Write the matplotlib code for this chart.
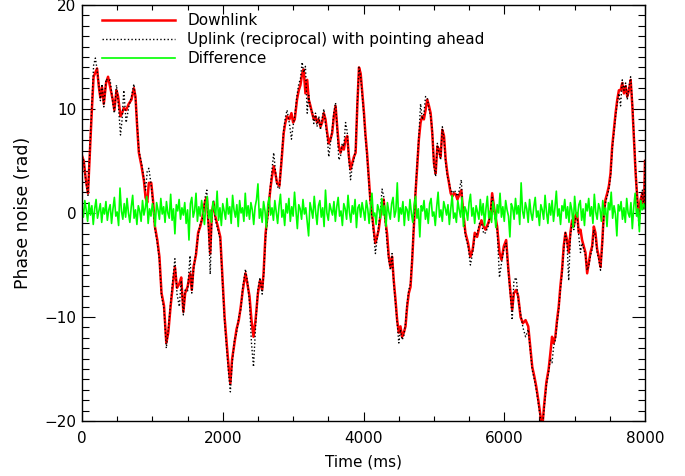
#!/usr/bin/env python3

import numpy as np
import matplotlib
matplotlib.use("Agg")
import matplotlib.pyplot as plt
from matplotlib.ticker import MultipleLocator

# time samples (ms) of the downlink / uplink traces
down_t = [
    0, 25, 55, 85, 100, 120, 140, 165, 190, 214,
    240, 261, 285, 310, 342, 370, 400, 437, 460, 490,
    513, 547, 570, 594, 627, 665, 703, 737, 760, 784,
    808, 846, 880, 903, 927, 950, 984, 1008, 1036, 1070,
    1100, 1130, 1165, 1198, 1226, 1260, 1293, 1320, 1350, 1383,
    1410, 1440, 1466, 1500, 1535, 1560, 1585, 1620, 1650, 1680,
    1712, 1750, 1774, 1800, 1822, 1845, 1870, 1893, 1930, 1965,
    1988, 2026, 2060, 2084, 2108, 2132, 2166, 2195, 2228, 2256,
    2285, 2323, 2350, 2380, 2408, 2437, 2466, 2500, 2530, 2560,
    2580, 2608, 2645, 2680, 2700, 2724, 2748, 2771, 2805, 2833,
    2866, 2890, 2914, 2947, 2976, 3000, 3023, 3055, 3080, 3104,
    3128, 3150, 3175, 3200, 3222, 3246, 3270, 3294, 3318, 3340,
    3365, 3389, 3413, 3436, 3460, 3484, 3507, 3531, 3555, 3579,
    3603, 3626, 3650, 3674, 3698, 3721, 3745, 3769, 3793, 3816,
    3840, 3864, 3888, 3912, 3936, 3960, 3983, 4007, 4026, 4050,
    4074, 4097, 4121, 4145, 4169, 4192, 4216, 4240, 4264, 4287,
    4311, 4335, 4359, 4383, 4406, 4430, 4454, 4478, 4502, 4525,
    4549, 4573, 4597, 4620, 4644, 4668, 4692, 4716, 4739, 4763,
    4787, 4811, 4835, 4858, 4882, 4906, 4930, 4954, 4977, 5001,
    5025, 5049, 5073, 5096, 5120, 5144, 5168, 5192, 5215, 5239,
    5263, 5287, 5310, 5334, 5352, 5390, 5410, 5448, 5486, 5519,
    5552, 5581, 5614, 5648, 5676, 5709, 5733, 5771, 5804, 5828,
    5866, 5899, 5932, 5961, 5994, 6027, 6056, 6089, 6113, 6137,
    6170, 6198, 6232, 6265, 6303, 6341, 6370, 6398, 6427, 6455,
    6484, 6517, 6541, 6565, 6598, 6631, 6655, 6679, 6702, 6726,
    6750, 6774, 6797, 6821, 6845, 6869, 6892, 6916, 6940, 6964,
    6988, 7011, 7035, 7059, 7083, 7106, 7130, 7154, 7178, 7201,
    7225, 7249, 7273, 7296, 7320, 7344, 7368, 7392, 7415, 7439,
    7463, 7487, 7510, 7534, 7558, 7582, 7606, 7629, 7653, 7677,
    7701, 7725, 7748, 7772, 7796, 7820, 7843, 7867, 7891, 7915,
    7938, 7962, 7986, 8000,
]

downlink = [
    5.5, 5.0, 3.2, 1.9, 4.0, 7.0, 9.9, 13.1, 13.5, 13.9,
    12.1, 11.1, 12.1, 10.5, 12.5, 13.1, 12.1, 10.9, 9.9, 11.8,
    11.2, 9.3, 9.6, 10.1, 9.9, 10.5, 10.9, 12.0, 11.2, 8.3,
    5.8, 4.5, 3.1, 1.5, 1.0, 2.9, 2.9, 1.3, -1.3, -2.6,
    -4.2, -7.7, -8.9, -12.5, -11.5, -8.9, -6.8, -5.2, -7.2, -6.8,
    -6.2, -9.5, -7.7, -7.1, -5.8, -7.4, -5.2, -4.0, -1.9, -1.3,
    -0.4, 1.2, 1.5, -1.3, -3.9, 0.0, 1.0, -0.3, -1.3, -2.3,
    -5.2, -10.0, -12.9, -14.8, -16.4, -14.1, -12.5, -11.2, -10.3, -9.0,
    -7.4, -5.8, -6.8, -8.0, -10.3, -11.9, -10.3, -7.7, -6.5, -7.4,
    -5.8, -2.0, 0.3, 2.5, 3.5, 4.5, 3.8, 2.9, 2.6, 4.8,
    7.7, 8.7, 9.3, 9.0, 9.6, 8.7, 9.0, 10.9, 11.8, 12.3,
    13.4, 13.8, 11.5, 12.8, 10.9, 10.3, 9.6, 9.0, 9.3, 8.7,
    9.0, 8.3, 8.7, 9.6, 9.0, 7.7, 6.7, 7.1, 7.7, 9.3,
    10.3, 8.3, 6.4, 5.8, 6.4, 6.1, 7.1, 7.4, 5.4, 4.2,
    4.8, 5.4, 5.8, 10.3, 14.0, 13.4, 11.5, 9.6, 7.7, 5.8,
    3.5, 1.3, 0.0, -1.6, -2.9, -2.3, -1.6, -0.3, 0.6, 1.3,
    -0.7, -2.0, -4.2, -5.2, -4.2, -6.5, -8.3, -10.3, -11.5, -10.9,
    -11.9, -11.5, -10.9, -9.0, -7.7, -7.1, -4.5, -1.3, 1.9, 4.5,
    7.1, 8.7, 9.3, 9.0, 9.9, 10.9, 10.3, 9.6, 7.7, 4.8,
    3.8, 6.4, 6.1, 5.4, 8.0, 7.4, 5.1, 3.8, 2.9, 1.9,
    1.6, 1.9, 1.8, 1.3, 1.6, 2.2, 0.6, -1.9, -2.9, -4.2,
    -3.5, -1.9, -2.3, -1.3, -0.7, -1.3, -1.6, -1.0, -0.3, 1.9,
    0.0, -1.3, -3.8, -4.5, -3.2, -2.6, -5.2, -7.7, -9.3, -7.7,
    -7.4, -8.0, -10.0, -10.6, -10.3, -10.9, -12.9, -14.8, -15.7, -16.7,
    -18.0, -19.6, -20.6, -18.6, -16.3, -15.0, -13.5, -11.9, -12.5, -11.9,
    -10.3, -9.0, -7.1, -5.5, -3.2, -1.9, -2.6, -3.8, -1.9, -0.7,
    -1.3, -0.3, 0.0, -1.9, -1.6, -2.6, -3.2, -3.8, -5.8, -4.8,
    -3.8, -3.2, -1.3, -1.9, -3.5, -4.2, -5.2, -2.9, 0.0, 1.3,
    1.9, 2.6, 3.8, 6.4, 8.0, 9.6, 10.9, 11.8, 11.8, 12.5,
    11.5, 12.2, 11.2, 11.8, 12.8, 10.3, 7.1, 3.8, 1.3, -0.3,
    1.3, 1.9, 0.6, 5.0,
]

uplink = [
    5.5, 5.0, 3.0, 1.7, 4.2, 7.4, 10.5, 14.2, 14.9, 13.8,
    12.3, 10.8, 12.4, 10.2, 12.9, 12.7, 12.8, 10.6, 9.6, 12.3,
    10.8, 7.5, 9.0, 11.8, 8.7, 10.2, 11.2, 12.4, 11.0, 8.5,
    6.0, 4.8, 3.3, 2.2, 4.0, 4.3, 2.6, 1.0, -1.5, -2.9,
    -4.5, -8.0, -9.2, -13.0, -11.2, -8.6, -6.2, -4.4, -7.8, -9.0,
    -6.5, -9.8, -7.4, -7.5, -4.1, -7.7, -5.5, -3.7, -2.2, -1.0,
    -0.6, 1.5, 2.2, -1.8, -5.9, -0.3, 1.2, -0.6, -1.6, -2.6,
    -5.5, -10.4, -13.4, -15.5, -17.2, -14.6, -12.2, -11.6, -10.0, -9.3,
    -7.1, -5.4, -6.5, -8.6, -12.5, -14.8, -11.0, -7.3, -6.2, -7.8,
    -6.1, -2.4, 0.0, 2.8, 4.2, 5.8, 4.1, 2.6, 2.3, 5.1,
    8.0, 9.2, 9.9, 8.6, 7.1, 8.4, 9.3, 11.3, 12.4, 12.9,
    14.5, 13.5, 14.1, 9.6, 11.3, 10.0, 9.9, 8.6, 9.6, 8.3,
    9.3, 8.0, 9.1, 10.0, 8.6, 7.3, 5.4, 6.8, 8.0, 9.7,
    10.6, 8.0, 5.1, 5.5, 6.7, 6.4, 8.7, 7.8, 5.0, 3.2,
    4.5, 5.1, 6.2, 10.6, 14.0, 13.1, 11.2, 9.3, 7.4, 5.5,
    3.2, 1.0, -0.4, -2.0, -3.9, -2.6, -1.3, 0.2, 2.3, 1.6,
    -1.0, -2.9, -4.5, -5.5, -3.9, -6.8, -8.6, -10.6, -12.5, -11.2,
    -12.2, -11.8, -10.6, -8.7, -7.4, -6.8, -4.2, -1.0, 2.2, 4.8,
    7.4, 10.5, 9.0, 9.5, 11.2, 11.1, 10.0, 9.3, 8.0, 4.5,
    3.5, 6.7, 5.8, 5.1, 8.3, 7.1, 4.8, 3.5, 3.0, 2.2,
    1.9, 2.2, 2.0, 1.6, 1.9, 3.2, 0.3, -2.2, -3.2, -5.0,
    -3.8, -2.2, -2.0, -1.0, -1.0, -2.0, -1.9, -1.3, 0.0, 1.5,
    -0.3, -1.6, -6.2, -4.8, -3.5, -2.9, -5.5, -8.0, -10.3, -6.5,
    -6.2, -8.3, -9.7, -11.0, -11.9, -11.2, -13.2, -15.1, -16.0, -17.0,
    -18.3, -19.9, -20.9, -18.9, -16.6, -15.3, -14.0, -14.4, -12.8, -12.2,
    -10.6, -9.3, -7.4, -5.8, -3.5, -1.9, -2.9, -6.5, -2.2, -1.0,
    -1.6, -0.6, -0.3, -2.2, -3.8, -2.9, -3.5, -4.1, -5.5, -5.1,
    -4.1, -3.5, -1.6, -2.2, -3.8, -4.5, -5.5, -3.2, -0.3, 1.0,
    1.6, 2.3, 3.5, 6.1, 7.7, 9.3, 10.6, 11.5, 10.3, 12.8,
    11.8, 12.5, 10.9, 12.1, 13.1, 10.6, 7.4, 4.1, 1.0, -1.3,
    1.0, 2.2, 0.3, 5.3,
]

# difference trace, one value every 20 ms from 0 to 8000 ms
diff_step = 20
difference = [
    0.6, -0.4, 1.2, 0.3, -0.8, 1.0, -0.2, 0.7, -1.1, 0.4, 1.3, -0.5, 0.2, 0.9, -0.9, 0.5, -0.1, 1.1, -0.7, 0.3,
    0.8, -1.0, 0.4, 1.5, -0.3, 0.1, -1.2, 2.4, 0.2, -0.6, 0.9, -0.4, 1.4, 0.0, -0.9, 0.6, 1.7, -0.5, 0.3, -1.1,
    0.7, 0.2, -0.8, 1.2, -0.2, 0.5, 1.6, -1.0, 0.4, -0.3, 0.9, 0.1, -1.3, 1.0, 0.3, -0.6, 1.4, -0.1, 0.6, -0.9,
    1.1, 0.0, -0.5, 1.8, -0.7, 0.4, -2.0, 0.8, 0.2, 1.3, -0.6, 0.5, -0.2, 1.0, -1.0, 0.3, -2.6, 0.9, 1.5, -0.4,
    0.2, 1.9, -0.8, 0.6, -0.3, 1.2, 0.1, -1.1, 0.7, 1.6, -0.5, 0.3, -0.9, 1.1, 0.4, -0.2, 2.1, -0.7, 0.5, -1.2,
    0.9, 0.2, -0.6, 1.4, -0.1, 0.6, -1.0, 1.7, 0.3, -0.4, 0.8, -1.3, 1.2, 0.0, 0.5, -0.8, 1.9, -0.3, 0.7, -0.6,
    1.0, 0.3, -1.1, 0.6, 1.3, 2.8, -0.5, 0.4, -0.9, 1.1, 0.2, -1.4, 0.8, 1.5, -0.2, 0.5, -0.7, 1.2, 0.1, -1.0,
    0.7, 1.8, -0.4, 0.3, -1.2, 0.9, 0.0, 1.4, -0.8, 0.6, -0.3, 2.0, 0.2, -1.5, 0.8, 0.4, -0.6, 1.3, -0.1, 0.5,
    -0.9, -2.2, 1.0, 0.3, -0.5, 1.6, 0.1, -1.1, 0.7, 1.2, -0.4, 0.5, -1.3, 2.2, 0.0, -0.7, 0.9, 0.3, -0.2, 1.1,
    -0.8, 0.6, 1.5, -0.3, 0.2, -1.2, 0.9, 0.4, -0.6, 1.7, 0.1, -0.9, 0.7, -0.1, 1.3, -1.4, 0.5, 0.8, -0.4, 1.0,
    0.2, -0.7, 1.2, 0.4, -1.0, 0.6, 1.9, -0.3, 0.0, -1.1, 0.8, 0.3, -0.5, 1.4, -0.2, 0.7, -1.3, 1.0, 0.1, -0.6,
    0.9, 1.5, -0.4, 0.2, 2.9, -0.8, 0.5, -0.1, 1.1, -1.2, 0.6, 0.3, -0.7, 1.3, 0.0, -0.9, 0.8, 1.6, -0.5, 0.4,
    -2.3, 0.7, 0.2, 1.2, -0.6, 0.4, -1.0, 0.9, 1.4, -0.3, 0.1, -1.2, 0.6, 2.0, -0.4, 0.3, -0.8, 1.1, 0.5, -0.2,
    0.8, -1.1, 0.4, 1.7, -0.5, 0.0, -0.9, 1.2, 0.3, -0.4, 1.5, -1.3, 0.6, 0.2, -0.7, 1.0, 1.8, -0.3, 0.5, -1.0,
    0.7, 0.1, -0.6, 1.3, -0.2, 0.9, -1.2, 0.4, 1.6, -0.5, 0.2, -0.9, 1.1, 0.3, -1.4, 0.8, 0.0, 1.9, -0.4, 0.6,
    -0.8, 1.2, 0.3, -0.3, -2.3, 0.9, 0.5, -0.6, 1.4, -0.1, 0.7, -1.1, 2.9, 0.2, -0.5, 1.0, 0.4, -0.9, 1.3, 0.0,
    -0.7, 0.6, 1.5, -0.4, 0.2, -1.2, 0.8, 0.3, -0.6, 1.7, 0.1, -1.0, 0.9, -0.2, 1.2, -0.8, 0.5, 2.1, -0.3, 0.4,
    -1.1, 0.7, 0.2, 1.3, -0.5, 0.6, -0.9, 1.0, 0.3, -1.4, 1.6, 0.0, -0.4, 0.8, 1.2, -0.7, 0.4, -1.2, 0.9, 0.2,
    1.4, -0.3, 0.6, -1.0, 1.8, 0.1, -0.6, 0.9, 0.4, -0.8, 1.2, -0.2, 0.5, -1.3, 1.0, 0.3, 2.0, -0.5, 0.7, -0.1,
    -2.2, 0.8, 0.2, 1.1, -0.6, 0.5, -0.9, 1.4, 0.0, -0.4, 1.0, -1.5, 0.6, 1.9, -0.3, 0.4, -1.8, 1.2, 0.3, 0.9,
    0.5,
]

labels = ["Downlink", "Uplink (reciprocal) with pointing ahead", "Difference"]


def plot():
    plt.rcParams["font.family"] = "DejaVu Sans"
    plt.rcParams["font.size"] = 11

    fig = plt.figure(figsize=(6.85, 4.76), dpi=100)
    ax = fig.add_axes([82 / 685, 55 / 476, 563 / 685, 416 / 476])

    diff_t = np.arange(len(difference)) * diff_step

    ax.plot(down_t, downlink, color="#ff0000", lw=1.8, label=labels[0])
    ax.plot(down_t, uplink, color="black", lw=1.0, ls=(0, (1, 1.6)), label=labels[1])
    ax.plot(diff_t, difference, color="#00ff00", lw=1.2, label=labels[2])

    ax.set_xlim(0, 8000)
    ax.set_ylim(-20, 20)
    ax.xaxis.set_major_locator(MultipleLocator(2000))
    ax.xaxis.set_minor_locator(MultipleLocator(500))
    ax.yaxis.set_major_locator(MultipleLocator(10))
    ax.yaxis.set_minor_locator(MultipleLocator(1))

    ax.tick_params(which="both", direction="in", top=True, right=True, width=0.8)
    ax.tick_params(axis="x", which="major", length=6.5, pad=7.5)
    ax.tick_params(axis="x", which="minor", length=3.6)
    ax.tick_params(axis="y", which="major", length=9.4, pad=4)
    ax.tick_params(axis="y", which="minor", length=4.7)
    for s in ax.spines.values():
        s.set_linewidth(1.0)

    ax.set_xlabel("Time (ms)", labelpad=6)
    ax.set_ylabel("Phase noise (rad)", labelpad=9, fontsize=12.5)

    ax.legend(loc="upper left", bbox_to_anchor=(0.0355, 0.981), frameon=False,
              borderpad=0, borderaxespad=0, handlelength=4.8, handletextpad=0.78,
              labelspacing=0.27)

    fig.savefig("out.png", dpi=100)


if __name__ == "__main__":
    assert len(down_t) == len(downlink) == len(uplink)
    plot()
